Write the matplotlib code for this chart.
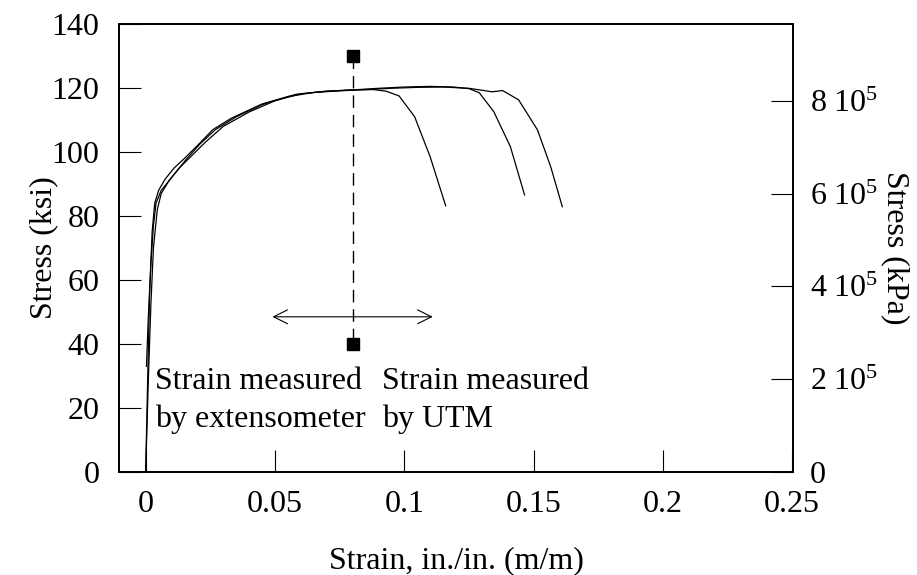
import matplotlib
matplotlib.use('Agg')
import matplotlib.pyplot as plt
from matplotlib.ticker import FixedLocator

plt.rcParams['font.family'] = ['Liberation Serif', 'DejaVu Serif']
plt.rcParams['mathtext.fontset'] = 'custom'
plt.rcParams['mathtext.rm'] = 'Liberation Serif'
plt.rcParams['mathtext.it'] = 'Liberation Serif:italic'

# stress-strain curves (strain in./in., stress ksi)
strain_a = [0, 0.0008, 0.0015, 0.0025, 0.0035, 0.005, 0.0075, 0.011, 0.015, 0.02,
            0.026, 0.033, 0.045, 0.058, 0.07, 0.08, 0.088, 0.093, 0.098, 0.104,
            0.110, 0.116]
stress_a = [0, 30, 55, 75, 84, 88, 91.5, 95, 98, 102,
            107, 110.5, 115, 118, 119, 119.4, 119.5, 119, 117.5, 111,
            98.5, 83.2]

strain_b = [0.0003, 0.001, 0.002, 0.003, 0.004, 0.006, 0.009, 0.013, 0.018, 0.023,
            0.03, 0.04, 0.05, 0.06, 0.07, 0.08, 0.09, 0.1, 0.11, 0.119,
            0.125, 0.129, 0.1346, 0.141, 0.1465]
stress_b = [33, 48, 65, 77, 84, 88, 91, 95, 99, 103,
            108, 112.5, 116, 118.2, 119, 119.4, 119.9, 120.3, 120.5, 120.3,
            119.8, 118.5, 112.6, 101.7, 86.6]

strain_c = [0, 0.001, 0.002, 0.003, 0.0045, 0.006, 0.009, 0.012, 0.016, 0.021,
            0.027, 0.035, 0.045, 0.055, 0.065, 0.075, 0.085, 0.095, 0.105, 0.115,
            0.125, 0.13, 0.134, 0.138, 0.1442, 0.1515, 0.1566, 0.1611]
stress_c = [0, 28, 52, 70, 82, 87, 91, 94, 98, 102.5,
            107, 111, 114.8, 117.3, 118.6, 119.1, 119.5, 119.9, 120.2, 120.3,
            119.9, 119.3, 118.8, 119.2, 116.3, 106.9, 95.4, 82.9]

# boundary between extensometer and UTM strain
split_strain = 0.08
split_stress = [130, 40]
arrow_strain = [0.049, 0.111]
arrow_stress = 48.5

x_ticks = [0, 0.05, 0.1, 0.15, 0.2, 0.25]
x_labels = ['0', '0.05', '0.1', '0.15', '0.2', '0.25']
y_ticks = [0, 20, 40, 60, 80, 100, 120, 140]
kpa_ticks = [0, 2e5, 4e5, 6e5, 8e5]
kpa_labels = ['0', r'$2\ 10^5$', r'$4\ 10^5$', r'$6\ 10^5$', r'$8\ 10^5$']
KSI_TO_KPA = 6894.76

fs = 23
fig = plt.figure(figsize=(9.17, 5.75), dpi=100)
ax = fig.add_axes([0.1298, 0.1791, 0.735, 0.7792])

for xs, ys in [(strain_a, stress_a), (strain_b, stress_b), (strain_c, stress_c)]:
    ax.plot(xs, ys, color='black', lw=0.9)

ax.plot([split_strain, split_strain], split_stress, color='black', lw=1.0,
        dashes=(9, 5))
ax.plot([split_strain] * 2, split_stress, 's', color='black', ms=8)

ax.annotate('', xy=(arrow_strain[0], arrow_stress), xytext=(arrow_strain[1], arrow_stress),
            arrowprops=dict(arrowstyle='<->,head_length=1.0,head_width=0.5',
                            color='black', lw=0.8, shrinkA=0, shrinkB=0))

ax.text(0.0035, 26, 'Strain measured', fontsize=fs, va='baseline')
ax.text(0.0035, 14, 'by extensometer', fontsize=fs, va='baseline')
ax.text(0.0915, 26, 'Strain measured', fontsize=fs, va='baseline')
ax.text(0.0915, 14, 'by UTM', fontsize=fs, va='baseline')

ax.set_xlim(-0.0103, 0.2503)
ax.set_ylim(0, 140)
ax.set_xticks(x_ticks)
ax.set_xticklabels(x_labels)
ax.set_yticks(y_ticks)
ax.tick_params(direction='in', length=16, width=0.8, labelsize=fs, pad=13)
ax.tick_params(axis='y', pad=14)
ax.set_xlabel('Strain, in./in. (m/m)', fontsize=fs)
ax.set_ylabel('Stress (ksi)', fontsize=fs)
ax.xaxis.set_label_coords(0.5, -0.165)
ax.yaxis.set_label_coords(-0.09, 0.5)
for s in ax.spines.values():
    s.set_linewidth(1.3)

ax2 = ax.twinx()
ax2.set_ylim(0, 140 * KSI_TO_KPA)
ax2.yaxis.set_major_locator(FixedLocator(kpa_ticks))
ax2.set_yticklabels(kpa_labels)
ax2.tick_params(direction='in', length=16, width=0.8, labelsize=fs, pad=12)
ax2.set_ylabel('Stress (kPa)', fontsize=fs, rotation=-90, va='center')
ax2.yaxis.set_label_coords(1.151, 0.5)
for s in ax2.spines.values():
    s.set_linewidth(1.3)

fig.savefig('out.png', dpi=100)
